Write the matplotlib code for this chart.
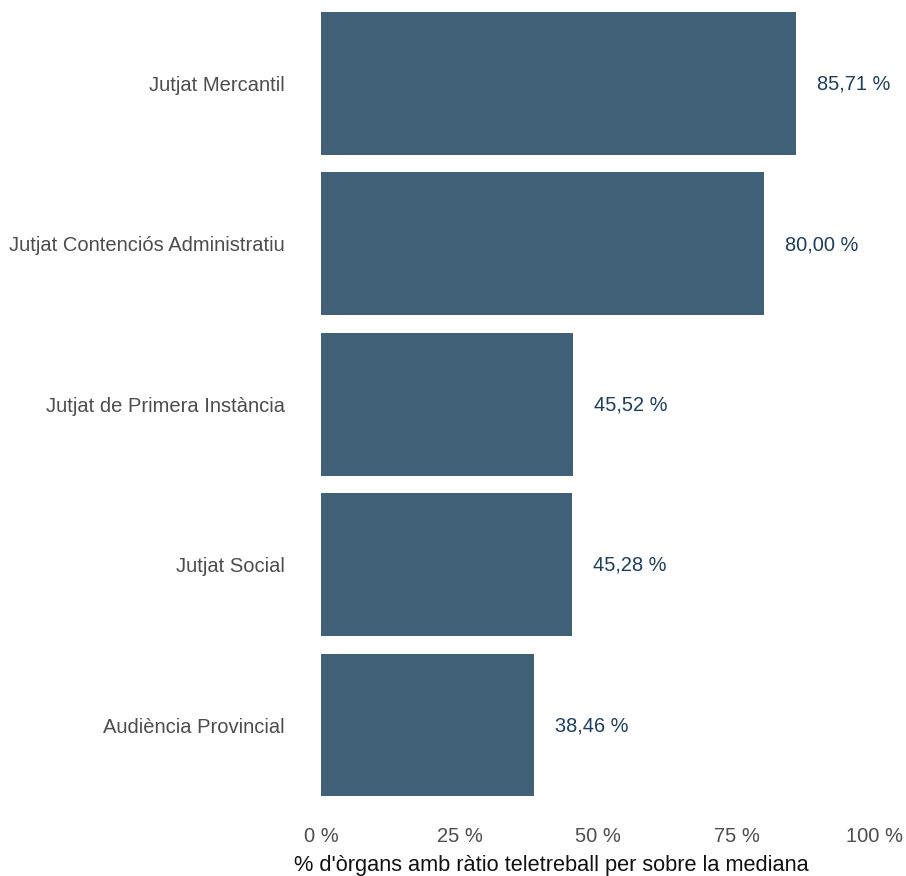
import matplotlib
matplotlib.use("Agg")
import matplotlib.pyplot as plt

categories = [
    "Jutjat Mercantil",
    "Jutjat Contenciós Administratiu",
    "Jutjat de Primera Instància",
    "Jutjat Social",
    "Audiència Provincial",
]
values = [85.71, 80.00, 45.52, 45.28, 38.46]
x_ticks = [0, 25, 50, 75, 100]
x_tick_labels = ["0 %", "25 %", "50 %", "75 %", "100 %"]
x_title = "% d'òrgans amb ràtio teletreball per sobre la mediana"

plt.rcParams["font.family"] = ["Liberation Sans", "DejaVu Sans"]

W, H = 906, 876
fig = plt.figure(figsize=(W / 100, H / 100), dpi=100)
left, right = 321 / W, 875 / W
ax = fig.add_axes([left, (H - 808.5) / H, right - left, 808.5 / H])

bar_color = "#3f6077"
label_color = "#1d3f5e"
tick_color = "#4d4d4d"

ypos = list(range(len(categories)))
ax.barh(ypos, values, height=0.89, color=bar_color, edgecolor="none")

for y, v in zip(ypos, values):
    ax.annotate(f"{v:.2f}".replace(".", ",") + " %", xy=(v, y + 0.005),
                xytext=(15, 0), textcoords="offset points",
                ha="left", va="center", fontsize=14.4, color=label_color)

ax.set_xlim(0, 100)
ax.set_ylim(4.52, -0.52)
ax.set_yticks(ypos)
ax.set_yticklabels(categories, fontsize=14.5, color=tick_color)
ax.set_xticks(x_ticks)
ax.set_xticklabels(x_tick_labels, fontsize=14.5, color=tick_color)
ax.tick_params(axis="y", length=0, pad=26)
ax.tick_params(axis="x", length=0, pad=13)
for s in ax.spines.values():
    s.set_visible(False)
ax.set_facecolor("white")

fig.text(551.5 / W, 1 - 866 / H, x_title, ha="center", va="center",
         fontsize=15.7, color="#111111")

fig.savefig("out.png", dpi=100, facecolor="white")
